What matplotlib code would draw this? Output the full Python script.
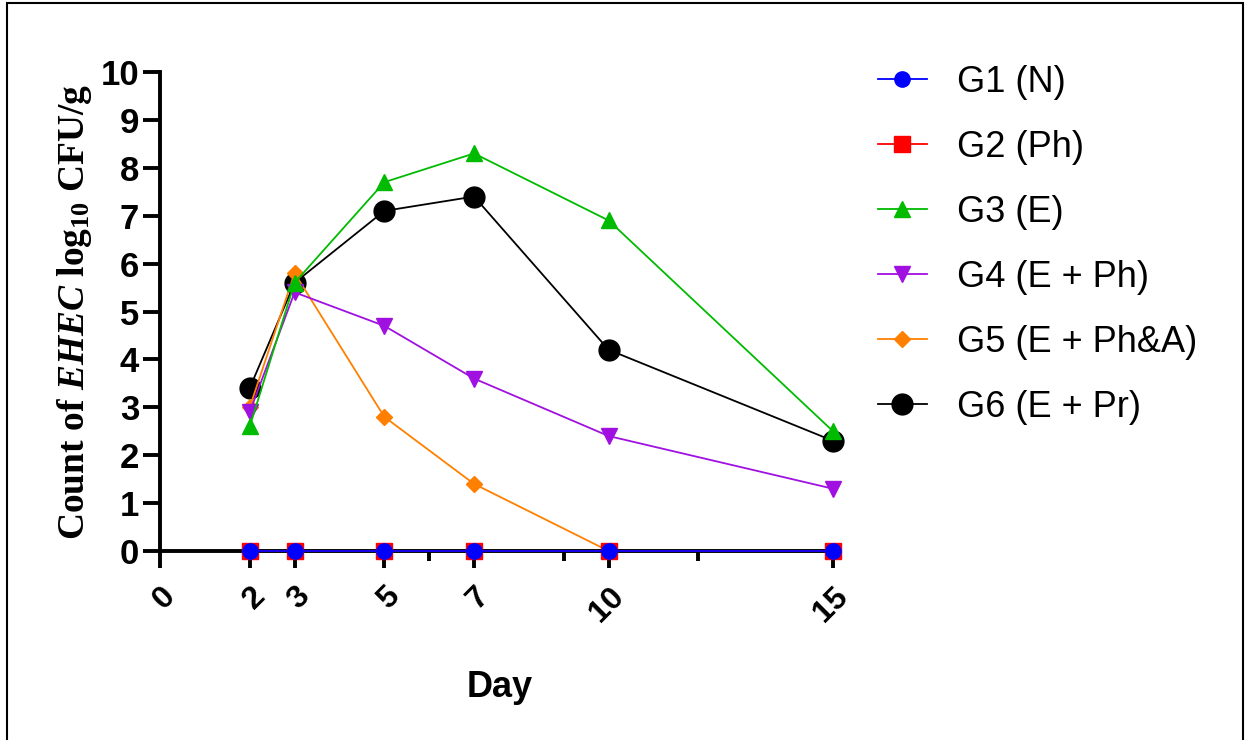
import matplotlib
matplotlib.use("Agg")
import matplotlib.pyplot as plt
from matplotlib.patches import Rectangle

plt.rcParams['mathtext.fontset'] = 'custom'
plt.rcParams['mathtext.rm'] = 'Liberation Serif:bold'
plt.rcParams['mathtext.it'] = 'Liberation Serif:italic:bold'
plt.rcParams['mathtext.bf'] = 'Liberation Serif:bold'

# data
days = [2, 3, 5, 7, 10, 15]
g1 = [0, 0, 0, 0, 0, 0]
g2 = [0, 0, 0, 0, 0, 0]
g3 = [2.6, 5.6, 7.7, 8.3, 6.9, 2.5]
g4 = [2.9, 5.4, 4.7, 3.6, 2.4, 1.3]
g5 = [3.0, 5.8, 2.8, 1.4, 0, 0]
g6 = [3.4, 5.6, 7.1, 7.4, 4.2, 2.3]

labels = ['G1 (N)', 'G2 (Ph)', 'G3 (E)', 'G4 (E + Ph)', 'G5 (E + Ph&A)', 'G6 (E + Pr)']
series = [g1, g2, g3, g4, g5, g6]
colors = ['#0000FF', '#FF0000', '#00BB00', '#A010E0', '#FF8000', '#000000']
markers = ['o', 's', '^', 'v', 'D', 'o']
msizes = [11, 11, 12, 12, 8.5, 15]

xticks_major = [0, 2, 3, 5, 7, 10, 15]
xticks_minor = [6, 9, 12]
yticks = list(range(0, 11))

fig = plt.figure(figsize=(12.45, 7.4), dpi=100)
ax = fig.add_axes([0.1285, 0.2554, 0.546, 0.6473])

handles = []
for i in range(len(series) - 1, -1, -1):
    h, = ax.plot(days, series[i], color=colors[i], marker=markers[i],
                 markersize=msizes[i], linewidth=1.3, clip_on=False,
                 zorder=3 + (len(series) - i))
    handles.insert(0, h)

ax.set_xlim(0, 15.15)
ax.set_ylim(0, 10)
for s in ['top', 'right']:
    ax.spines[s].set_visible(False)
ax.spines['left'].set_linewidth(2.8)
ax.spines['bottom'].set_linewidth(2.8)
ax.spines['bottom'].set_zorder(2)

ax.set_xticks(xticks_major)
ax.set_xticks(xticks_minor, minor=True)
ax.set_yticks(yticks)
ax.tick_params(axis='both', which='major', length=12, width=2.8)
ax.tick_params(axis='x', which='minor', length=7, width=2.8)
ax.set_xticklabels([str(t) for t in xticks_major], rotation=45,
                   ha='right', va='top', rotation_mode='anchor',
                   fontsize=23, fontweight='bold', family='Liberation Sans')
ax.set_yticklabels([str(t) for t in yticks], fontsize=25,
                   fontweight='bold', family='Liberation Sans')
ax.tick_params(axis='x', pad=10)
ax.tick_params(axis='y', pad=3)

ax.set_xlabel('Day', fontsize=26, fontweight='bold', family='Liberation Sans',
              labelpad=30)
ax.set_ylabel(r'Count of $EHEC$ log$_{10}$ CFU/g', fontsize=27,
              fontweight='bold', family='Liberation Serif', labelpad=5)

fig.legend(handles, labels, loc='upper left', bbox_to_anchor=(0.679, 0.956),
           frameon=False, handlelength=1.35, handletextpad=0.85,
           labelspacing=0.83, prop={'family': 'Liberation Sans', 'size': 26})

fig.add_artist(Rectangle((0.006, -0.01), 0.992, 1.006, transform=fig.transFigure,
                         fill=False, edgecolor='black', linewidth=1.5))

fig.savefig('out.png', dpi=100)
